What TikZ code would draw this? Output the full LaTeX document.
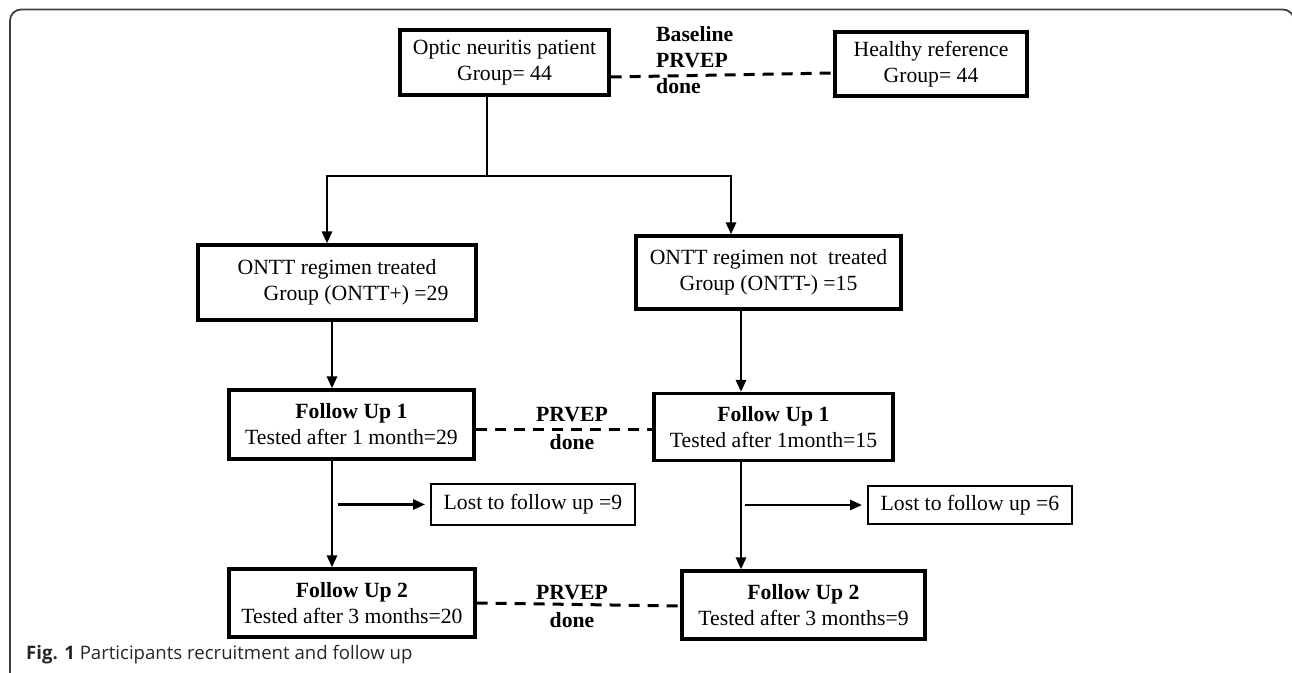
\documentclass[tikz,border=0pt]{standalone}
\usepackage{fontspec}
\setmainfont{Liberation Serif}
\newfontfamily\capfont{Open Sans}
\usetikzlibrary{arrows.meta}

\tikzset{
  box/.style={draw, line width=3.2pt, inner sep=0pt, align=center,
    font=\fontsize{21.7}{26}\selectfont},
  thinbox/.style={draw, line width=1.8pt, inner sep=0pt,
    font=\fontsize{21.7}{26}\selectfont},
  tag/.style={inner sep=0pt, align=center,
    font=\bfseries\fontsize{21.7}{28}\selectfont},
  link/.style={line width=2.8pt},
  pair/.style={line width=3pt, dash pattern=on 11pt off 8pt},
}

\begin{document}
\begin{tikzpicture}[x=1pt, y=-1pt, >={Triangle[length=12pt,width=10pt]}]
    \useasboundingbox (0,0) rectangle (1292,672);

    % Frame
    \draw[black!75, line width=1.8pt, rounded corners=11pt]
        (10,690) -- (10,9.5) -- (1294,9.5) -- (1294,690);

    %% Baseline

    % Patients and reference group
    \node[box, minimum width=209pt, minimum height=65pt] (optic) at (504.5,62.5)
        {Optic neuritis patient\\Group= 44};
    \node[box, minimum width=192pt, minimum height=64pt] (healthy) at (931,64)
        {Healthy reference\\Group= 44};
    \draw[pair] ([yshift=-14.5pt]optic.east) -- ([yshift=-9pt]healthy.west);
    \node[tag, anchor=west, align=left, font=\bfseries\fontsize{21.7}{26}\selectfont]
        (base) at (656,60) {Baseline\\PRVEP\\done};

    % Split into the two arms
    \coordinate (split) at (487,176);
    \coordinate (barL) at (327,176);
    \coordinate (barR) at (731,176);
    \draw[link] (optic.south -| split) -- (split);
    \draw[link, line cap=rect] (barL) -- (barR);

    %% Treatment arms
    \node[box, minimum width=278pt, minimum height=75pt] (treated) at (337,282.5)
        {ONTT regimen treated\\\hspace*{38pt}Group (ONTT+) =29};
    \node[box, minimum width=265pt, minimum height=73pt] (untreated) at (768.5,272.5)
        {ONTT regimen not\ \ treated\\Group (ONTT-) =15};
    \draw[link, ->] (barL) -- (barL |- treated.north);
    \draw[link, ->] (barR) -- (barR |- untreated.north);

    %% Follow up 1
    \coordinate (colA) at (332,0);
    \coordinate (colB) at (741,0);
    \node[box, minimum width=245pt, minimum height=69pt] (fuA) at (351.5,424.5)
        {\textbf{Follow Up 1}\\Tested after 1 month=29};
    \node[box, minimum width=239pt, minimum height=67pt] (fuB) at (773.5,427)
        {\textbf{Follow Up 1}\\Tested after 1month=15};
    \draw[link, ->] (treated.south -| colA) -- (fuA.north -| colA);
    \draw[link, ->] (untreated.south -| colB) -- (fuB.north -| colB);
    \draw[pair] ([yshift=-4.5pt]fuA.east) -- ([yshift=-2pt]fuB.west);
    \node[tag] (pairA) at (572,428) {PRVEP\\done};

    % Drop outs
    \node[thinbox, minimum width=204pt, minimum height=41pt] (lostA) at (533,504.5)
        {Lost to follow up =9};
    \node[thinbox, minimum width=204pt, minimum height=38pt] (lostB) at (970,505)
        {Lost to follow up =6};

    %% Follow up 2
    \node[box, minimum width=246pt, minimum height=68pt] (fuC) at (352,603)
        {\textbf{Follow Up 2}\\Tested after 3 months=20};
    \node[box, minimum width=243pt, minimum height=68pt] (fuD) at (803.5,605)
        {\textbf{Follow Up 2}\\Tested after 3 months=9};
    \draw[link, ->] (fuA.south -| colA) -- (fuC.north -| colA);
    \draw[link, ->] (fuB.south -| colB) -- (fuD.north -| colB);
    \draw[link, ->, shorten >=5pt] ([xshift=6pt]colA |- lostA.west) -- (lostA.west);
    \draw[link, ->, shorten >=5pt] ([xshift=4pt]colB |- lostB.west) -- (lostB.west);
    \draw[pair] (fuC.east) -- ([yshift=-1pt]fuD.west);
    \node[tag] (pairB) at (572,606) {PRVEP\\done};

    % Caption
    \node[anchor=west, inner sep=0pt, text=black!85,
        font=\capfont\fontsize{18.6}{22}\selectfont] (caption) at (26,655)
        {\textbf{Fig. 1} Participants recruitment and follow up};

\end{tikzpicture}
\end{document}
